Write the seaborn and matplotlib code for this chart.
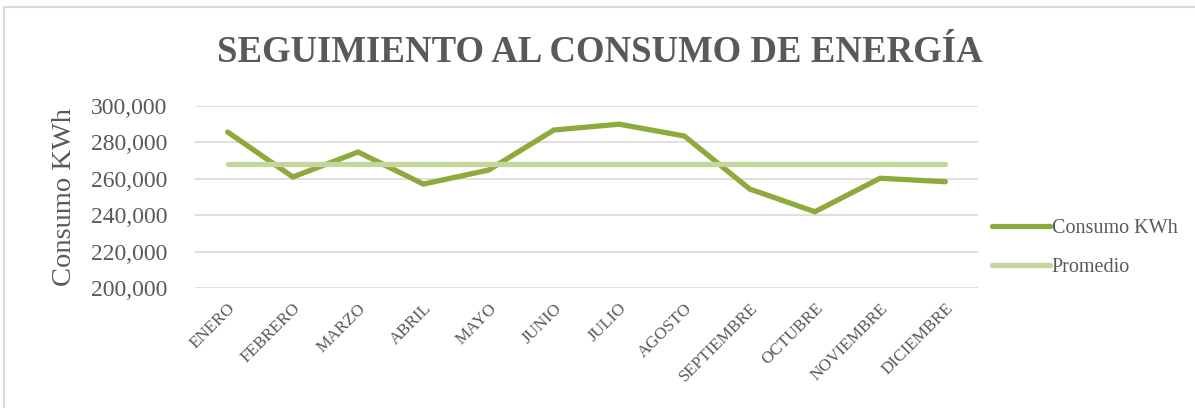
import matplotlib
matplotlib.use("Agg")
import matplotlib.pyplot as plt
import seaborn as sns
import pandas as pd
from matplotlib.patches import Rectangle

meses = ["ENERO", "FEBRERO", "MARZO", "ABRIL", "MAYO", "JUNIO", "JULIO",
         "AGOSTO", "SEPTIEMBRE", "OCTUBRE", "NOVIEMBRE", "DICIEMBRE"]
consumo = [285700, 261000, 274700, 257100, 264800, 286800, 290000,
           283500, 254400, 241900, 260300, 258400]
promedio = [268200] * 12
y_ticks = [200000, 220000, 240000, 260000, 280000, 300000]

sns.set_theme(style="white")
plt.rcParams["font.family"] = ["Liberation Serif", "DejaVu Serif"]

TXT = "#595959"
C1 = "#8FAA3C"
C2 = "#C3D69B"

df = pd.DataFrame({"mes": meses, "Consumo KWh": consumo, "Promedio": promedio})
df["x"] = range(len(meses))

fig = plt.figure(figsize=(11.95, 4.08), dpi=100)
ax = fig.add_axes([195 / 1195, 1 - 288 / 408, (978 - 195) / 1195, (288 - 106) / 408])

sns.lineplot(data=df, x="x", y="Consumo KWh", ax=ax, color=C1, linewidth=3.8,
             label="Consumo KWh", solid_capstyle="round", solid_joinstyle="miter")
sns.lineplot(data=df, x="x", y="Promedio", ax=ax, color=C2, linewidth=3.8,
             label="Promedio", solid_capstyle="round")

ax.set_xlim(-0.5, len(meses) - 0.5)
ax.set_ylim(200000, 300000)
ax.set_yticks(y_ticks)
ax.set_yticklabels([f"{v:,}" for v in y_ticks], fontsize=17, color=TXT)
ax.set_xticks(range(len(meses)))
ax.set_xticklabels(meses, rotation=45, ha="right", rotation_mode="anchor",
                   fontsize=12.3, color=TXT)
ax.tick_params(axis="y", length=0, pad=20)
ax.tick_params(axis="x", length=0, pad=9)
ax.grid(axis="y", color="#D9D9D9", linewidth=1.2)
ax.set_axisbelow(True)
for s in ax.spines.values():
    s.set_visible(False)
ax.set_xlabel("")
ax.set_ylabel("Consumo KWh", fontsize=20.5, color=TXT, labelpad=10)

leg = ax.legend(loc="center left", bbox_to_anchor=(0.995, 0.22), frameon=False,
                fontsize=14.5, labelcolor=TXT, handlelength=2.85, handletextpad=0.1,
                labelspacing=0.95)

fig.text(0.502, 1 - 52 / 408, "SEGUIMIENTO AL CONSUMO DE ENERGÍA", ha="center",
         va="center", fontsize=26.5, fontweight="bold", color=TXT)

fig.patches.append(Rectangle((4 / 1195, -0.05), 1.1, 1 - 7 / 408 + 0.05,
                             transform=fig.transFigure, fill=False,
                             edgecolor="#D9D9D9", linewidth=1.5))

fig.savefig("out.png", dpi=100)
